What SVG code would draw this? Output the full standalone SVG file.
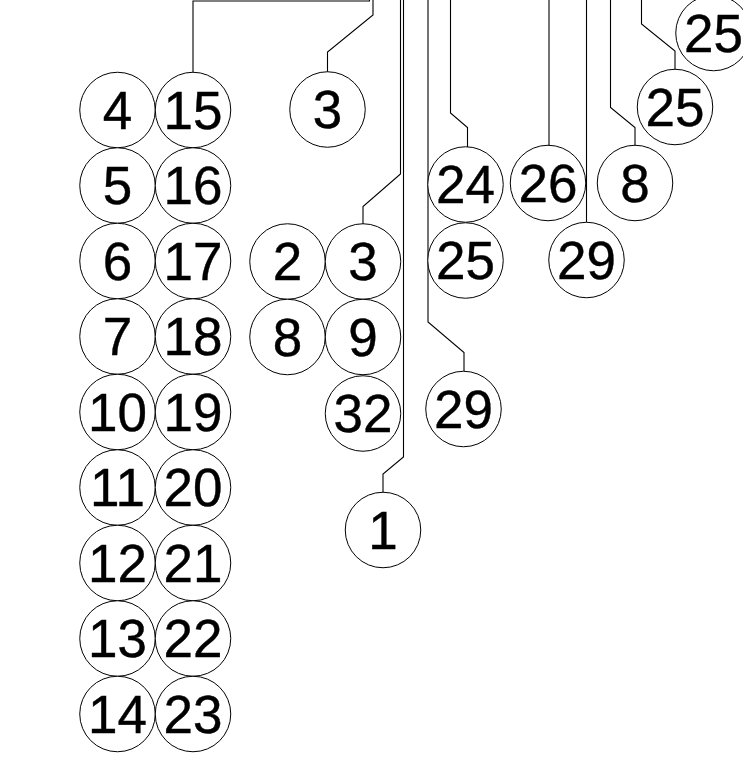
<svg xmlns="http://www.w3.org/2000/svg" width="743" height="763" viewBox="0 0 743 763">
<style>
.n circle{fill:#fff;stroke:#000;stroke-width:1}
.n text{font-family:"Liberation Sans",Arial,sans-serif;font-size:53px;text-anchor:middle;fill:#000;stroke:#000;stroke-width:0.4}
.c path{fill:none;stroke:#000;stroke-width:1.1}
</style>
<rect width="743" height="763" fill="#fff"/>
<g id="connectors" class="c">
<path d="M193 72 V1 H369.5 V-5"/>
<path d="M373 -5 V15 L327.5 52 V72"/>
<path d="M400.5 -5 V174 L363 206.5 V224"/>
<path d="M403.5 -5 V457 L383 474 V492.5"/>
<path d="M428 -5 V322 L464 352.5 V371.5"/>
<path d="M450.5 -5 V113 L467.5 127.5 V147"/>
<path d="M549 -5 V145.5"/>
<path d="M586.5 -5 V222.5"/>
<path d="M610.5 -5 V107.5 L635 127.5 V145.5"/>
<path d="M641.5 -5 V24 L675 51 V69.5"/>
</g>
<g id="n4" class="n"><circle cx="117.5" cy="110" r="37.75"/><text x="117.5" y="128.5">4</text></g>
<g id="n5" class="n"><circle cx="117.5" cy="185.5" r="37.75"/><text x="117.5" y="204">5</text></g>
<g id="n6" class="n"><circle cx="117.5" cy="261" r="37.75"/><text x="117.5" y="279.5">6</text></g>
<g id="n7" class="n"><circle cx="117.5" cy="336.5" r="37.75"/><text x="117.5" y="355">7</text></g>
<g id="n10" class="n"><circle cx="117.5" cy="412" r="37.75"/><text x="117.5" y="430.5">10</text></g>
<g id="n11" class="n"><circle cx="117.5" cy="487.5" r="37.75"/><text x="117.5" y="506">11</text></g>
<g id="n12" class="n"><circle cx="117.5" cy="563" r="37.75"/><text x="117.5" y="581.5">12</text></g>
<g id="n13" class="n"><circle cx="117.5" cy="638.5" r="37.75"/><text x="117.5" y="657">13</text></g>
<g id="n14" class="n"><circle cx="117.5" cy="714" r="37.75"/><text x="117.5" y="732.5">14</text></g>
<g id="n15" class="n"><circle cx="193" cy="110" r="37.75"/><text x="193" y="128.5">15</text></g>
<g id="n16" class="n"><circle cx="193" cy="185.5" r="37.75"/><text x="193" y="204">16</text></g>
<g id="n17" class="n"><circle cx="193" cy="261" r="37.75"/><text x="193" y="279.5">17</text></g>
<g id="n18" class="n"><circle cx="193" cy="336.5" r="37.75"/><text x="193" y="355">18</text></g>
<g id="n19" class="n"><circle cx="193" cy="412" r="37.75"/><text x="193" y="430.5">19</text></g>
<g id="n20" class="n"><circle cx="193" cy="487.5" r="37.75"/><text x="193" y="506">20</text></g>
<g id="n21" class="n"><circle cx="193" cy="563" r="37.75"/><text x="193" y="581.5">21</text></g>
<g id="n22" class="n"><circle cx="193" cy="638.5" r="37.75"/><text x="193" y="657">22</text></g>
<g id="n23" class="n"><circle cx="193" cy="714" r="37.75"/><text x="193" y="732.5">23</text></g>
<g id="n3a" class="n"><circle cx="327.5" cy="109.5" r="37.75"/><text x="327.5" y="128">3</text></g>
<g id="n2" class="n"><circle cx="287.5" cy="261.5" r="37.75"/><text x="287.5" y="280">2</text></g>
<g id="n3b" class="n"><circle cx="363" cy="261.5" r="37.75"/><text x="363" y="280">3</text></g>
<g id="n8a" class="n"><circle cx="287.5" cy="337" r="37.75"/><text x="287.5" y="355.5">8</text></g>
<g id="n9" class="n"><circle cx="363" cy="337" r="37.75"/><text x="363" y="355.5">9</text></g>
<g id="n32" class="n"><circle cx="363" cy="413.5" r="37.75"/><text x="363" y="432">32</text></g>
<g id="n1" class="n"><circle cx="383" cy="530" r="37.75"/><text x="383" y="548.5">1</text></g>
<g id="n24" class="n"><circle cx="465.5" cy="184.5" r="37.75"/><text x="465.5" y="203">24</text></g>
<g id="n25a" class="n"><circle cx="465.5" cy="260.5" r="37.75"/><text x="465.5" y="279">25</text></g>
<g id="n29a" class="n"><circle cx="463.5" cy="409" r="37.75"/><text x="463.5" y="427.5">29</text></g>
<g id="n26" class="n"><circle cx="548" cy="183" r="37.75"/><text x="548" y="201.5">26</text></g>
<g id="n8b" class="n"><circle cx="635" cy="183" r="37.75"/><text x="635" y="201.5">8</text></g>
<g id="n29b" class="n"><circle cx="586.5" cy="260" r="37.75"/><text x="586.5" y="278.5">29</text></g>
<g id="n25b" class="n"><circle cx="675" cy="107" r="37.75"/><text x="675" y="125.5">25</text></g>
<g id="n25c" class="n"><circle cx="713.5" cy="33" r="37.75"/><text x="713.5" y="51.5">25</text></g>
</svg>
